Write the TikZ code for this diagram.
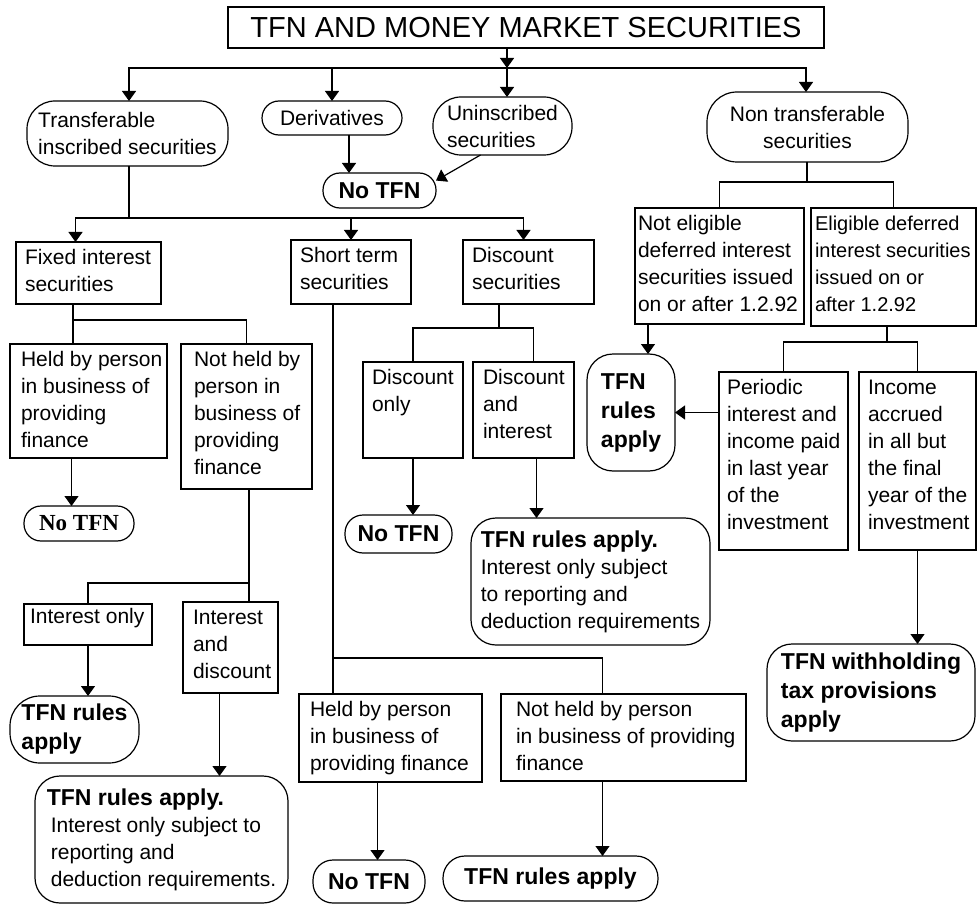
\documentclass[tikz,border=0pt]{standalone}
\usepackage{fontspec}
\setmainfont{Liberation Sans}
\newfontfamily\slabfont{Liberation Serif}
\usetikzlibrary{arrows.meta}
\newcommand{\reg}{\fontsize{21}{27}\selectfont}
\newcommand{\bld}{\fontsize{23}{29}\selectfont\bfseries}
\newcommand{\cell}[3]{\parbox[c][#2pt][t]{#1pt}{\vspace*{-4pt}\begin{tabular}[t]{@{}l@{}}#3\end{tabular}}}

\begin{document}
\begin{tikzpicture}[x=1pt, y=-1pt, line width=1.2pt,
    box/.style={draw, anchor=north west, inner xsep=9pt, inner ysep=8pt, outer sep=0pt, font=\reg},
    pill/.style={draw, rectangle, align=left, inner sep=0pt, outer sep=0pt},
    arr/.style={-{Triangle[width=14pt,length=10pt]}}]
    \fill[white] (0,0) rectangle (977,904);
    \useasboundingbox (0,0) rectangle (977,904);

    \node[draw, minimum width=596pt, minimum height=41pt, inner sep=0pt,
      font=\fontsize{29}{35}\selectfont] (title) at (526,27.5) {TFN AND MONEY MARKET SECURITIES};

    \node[pill, minimum width=201pt, minimum height=65pt, rounded corners=28pt, font=\reg]
      (trans) at (127.5,133.5) {Transferable\\inscribed securities};
    \node[pill, minimum width=140pt, minimum height=34pt, rounded corners=17pt, font=\reg]
      (deriv) at (332,118) {Derivatives};
    \node[pill, minimum width=139pt, minimum height=58pt, rounded corners=28pt, font=\reg]
      (unin) at (502.5,126) {Uninscribed\\securities};
    \node[pill, align=center, minimum width=201pt, minimum height=70pt, rounded corners=30pt, font=\reg]
      (nontrans) at (807.5,127) {Non transferable\\securities};
    \node[pill, minimum width=113pt, minimum height=35pt, rounded corners=17pt, font=\bld]
      (notfn1) at (379.5,190.5) {No TFN};

    \node[box] (fixed) at (16,242) {\cell{127}{46}{Fixed interest\\securities}};
    \node[box] (short) at (291,240) {\cell{102}{48}{Short term\\securities}};
    \node[box] (disc) at (463,240) {\cell{113}{48}{Discount\\securities}};
    \node[box, inner xsep=3pt] (notelig) at (635,208)
      {\cell{163}{100}{Not eligible\\deferred interest\\securities issued\\on or after 1.2.92}};
    \node[box, inner xsep=4pt, font=\fontsize{20}{27}\selectfont] (elig) at (811,208)
      {\cell{157}{102}{Eligible deferred\\interest securities\\issued on or\\after 1.2.92}};

    \node[box, inner xsep=11pt] (heldA) at (10,344)
      {\cell{135}{98}{Held by person\\in business of\\providing\\finance}};
    \node[box, inner xsep=13pt] (notheldA) at (181,344)
      {\cell{105}{129}{Not held by\\person in\\business of\\providing\\finance}};
    \node[box] (disconly) at (363,362) {\cell{82}{80}{Discount\\only}};
    \node[box, inner xsep=10pt] (discint) at (473,362) {\cell{81}{80}{Discount\\and\\interest}};
    \node[box, inner xsep=8pt] (periodic) at (719,372)
      {\cell{113}{162}{Periodic\\interest and\\income paid\\in last year\\of the\\investment}};
    \node[box] (income) at (859,372)
      {\cell{99}{162}{Income\\accrued\\in all but\\the final\\year of the\\investment}};

    \node[box, inner xsep=6pt, inner ysep=5pt] (intonly) at (24,604) {\cell{116}{31}{Interest only}};
    \node[box, inner xsep=10pt] (intdisc) at (183,602) {\cell{75}{75}{Interest\\and\\discount}};
    \node[box, inner xsep=11pt] (heldB) at (299,694)
      {\cell{161}{72}{Held by person\\in business of\\providing finance}};
    \node[box, inner xsep=15pt] (notheldB) at (501,694)
      {\cell{215}{71}{Not held by person\\in business of providing\\finance}};

    \node[pill, minimum width=110pt, minimum height=35pt, rounded corners=17pt, font={\slabfont\bld}]
      (notfnA) at (79,523.5) {No TFN};
    \node[pill, minimum width=107pt, minimum height=38pt, rounded corners=18pt, font=\bld]
      (notfnC) at (398.5,534) {No TFN};
    \node[pill, minimum width=88pt, minimum height=117pt, rounded corners=26pt, font=\bld]
      (rulesC) at (631,412.5) {TFN\\rules\\apply};
    \node[pill, minimum width=239pt, minimum height=127pt, rounded corners=25pt, font=\reg]
      (bigB) at (590.5,581.5) {{\bld TFN rules apply.}\\Interest only subject\\to reporting and\\deduction requirements};
    \node[pill, minimum width=208pt, minimum height=97pt, rounded corners=25pt, font=\bld]
      (withhold) at (871,692.5) {TFN withholding\\tax provisions\\apply};
    \node[pill, minimum width=129pt, minimum height=67pt, rounded corners=30pt, font=\bld]
      (rulesA) at (74.5,729.5) {TFN rules\\apply};
    \node[pill, minimum width=253pt, minimum height=127pt, rounded corners=25pt, font=\reg]
      (bigA) at (161.5,839.5) {{\bld TFN rules apply.}\\\hspace*{4pt}Interest only subject to\\\hspace*{4pt}reporting and\\\hspace*{4pt}deduction requirements.};
    \node[pill, minimum width=112pt, minimum height=43pt, rounded corners=20pt, font=\bld]
      (notfnB) at (369,881.5) {No TFN};
    \node[pill, minimum width=215pt, minimum height=45pt, rounded corners=22pt, font=\bld]
      (rulesB) at (550.5,878.5) {TFN rules apply};

    \coordinate (j1) at (507,68);
    \coordinate (j2) at (129,218);
    \coordinate (j3) at (807,182);
    \coordinate (j4) at (73,320);
    \coordinate (j5) at (249,583);
    \coordinate (j6) at (333,658);
    \coordinate (j7) at (499,328);
    \coordinate (j8) at (887,342);
    \coordinate (d1) at ([xshift=17pt]deriv.south);
    \coordinate (d2) at ([xshift=-17pt]heldA.south);
    \coordinate (d3) at ([xshift=-11pt]intdisc.south);
    \coordinate (d4) at ([xshift=-13pt]heldB.south);
    \coordinate (d5) at ([xshift=-21pt]notheldB.south);
    \coordinate (d6) at ([xshift=13pt]discint.south);
    \coordinate (d7) at ([xshift=17pt]rulesC.north);

    \draw[arr] (title.south -| j1) -- (j1);
    \draw[arr] (j1) -| ([xshift=1.5pt]trans.north);
    \draw[arr] (j1) -| (deriv.north);
    \draw[arr] (j1) -- (j1 |- unin.north);
    \draw[arr] (j1) -| ([xshift=-1.5pt]nontrans.north);
    \draw[arr] (d1) -- (d1 |- notfn1.north);
    \draw[arr] ([xshift=-22pt]unin.south) -- (notfn1.10);

    \draw (trans.south -| j2) -- (j2);
    \draw[arr] (j2) -| ([xshift=-13pt]fixed.north);
    \draw[arr] (j2) -| (short.north);
    \draw[arr] (j2) -| ([xshift=-5pt]disc.north);

    \draw (nontrans.south -| j3) -- (j3);
    \draw (notelig.north) |- (j3) -| (elig.north);

    \draw (j4 |- fixed.south) -- (j4 |- heldA.north);
    \draw (j4) -| (notheldA.north);
    \draw[arr] (d2) -- (d2 |- notfnA.north);
    \draw (j5 |- notheldA.south) -- (j5 |- intdisc.north);
    \draw (j5) -| (intonly.north);
    \draw[arr] (intonly.south) -- (intonly.south |- rulesA.north);
    \draw[arr] (d3) -- (d3 |- bigA.north);

    \draw (j6 |- short.south) -- (j6 |- heldB.north);
    \draw (j6) -| ([xshift=-21pt]notheldB.north);
    \draw[arr] (d4) -- (d4 |- notfnB.north);
    \draw[arr] (d5) -- (d5 |- rulesB.north);

    \draw (j7 |- disc.south) -- (j7);
    \draw (disconly.north) |- (j7) -| ([xshift=10pt]discint.north);
    \draw[arr] (disconly.south) -- (disconly.south |- notfnC.north);
    \draw[arr] (d6) -- (d6 |- bigB.north);

    \draw[arr] (d7 |- notelig.south) -- (d7);
    \draw (j8 |- elig.south) -- (j8);
    \draw (periodic.north) |- (j8) -| (income.north);
    \draw[arr] (rulesC.east -| periodic.west) -- (rulesC.east);
    \draw[arr] (income.south) -- (income.south |- withhold.north);
\end{tikzpicture}
\end{document}
